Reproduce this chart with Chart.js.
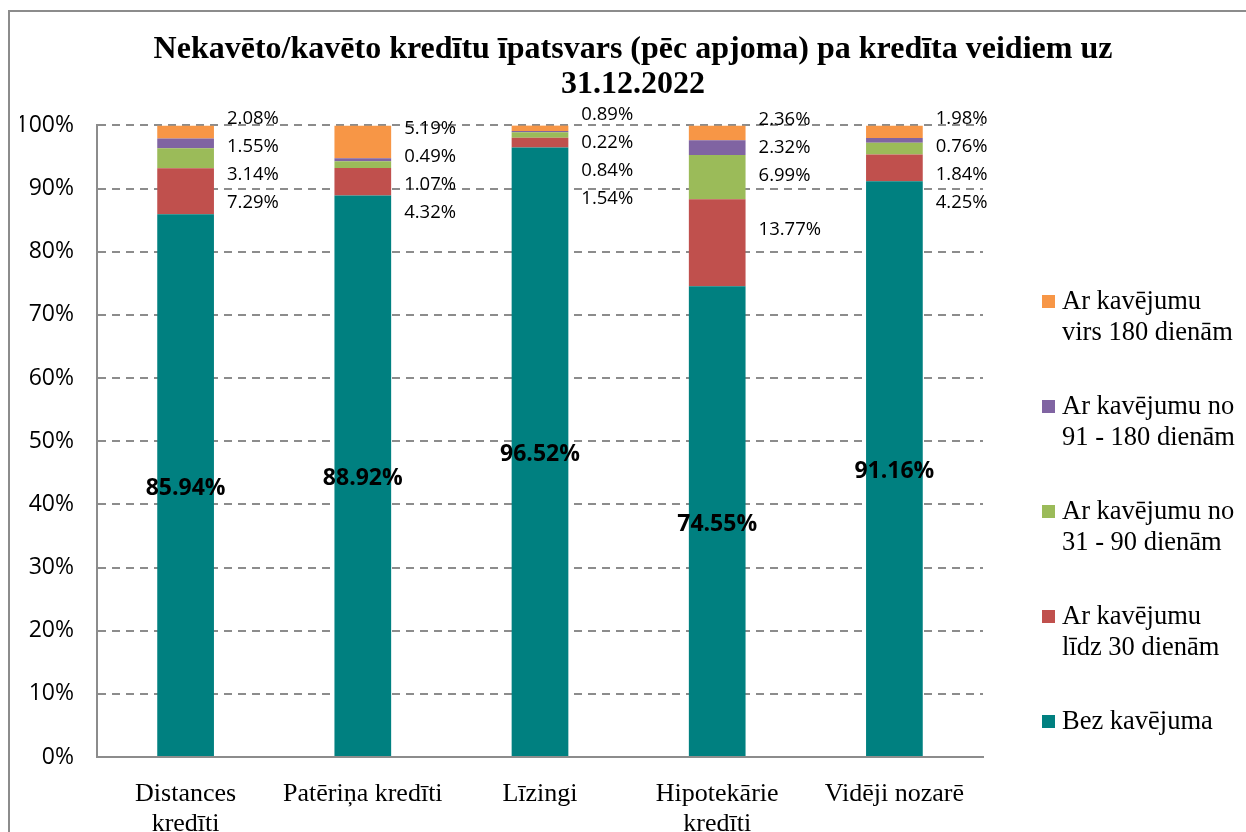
<!DOCTYPE html>
<html>
<head>
<meta charset="utf-8">
<script src="https://cdn.jsdelivr.net/npm/chart.js@4"></script>
<style>
  html, body { margin: 0; padding: 0; background: #fff; }
  body { width: 1246px; height: 832px; overflow: hidden; position: relative; }
  #frame { position: absolute; left: 8px; top: 10px; width: 1250px; height: 840px; border: 2px solid #8c8c8c; box-sizing: border-box; }
  #wrap { position: absolute; left: 0; top: 0; width: 1246px; height: 832px; }
  #legend { position: absolute; left: 1042px; top: 285px; font-family: "Liberation Serif", serif; font-size: 26.5px; color: #000; }
  #legend .item { position: relative; padding-left: 20px; line-height: 31px; height: 105px; white-space: nowrap; }
  #legend .box { position: absolute; left: 0; top: 10px; width: 13px; height: 13px; }
</style>
</head>
<body>
<div id="frame"></div>
<div id="wrap"><canvas id="myChart" width="1246" height="832"></canvas></div>
<div id="legend"></div>
<script>
// categories and series (percent of volume)
var categories = [['Distances', 'kredīti'], 'Patēriņa kredīti', 'Līzingi', ['Hipotekārie', 'kredīti'], 'Vidēji nozarē'];
var bezKavejuma = [85.94, 88.92, 96.52, 74.55, 91.16];
var lidz30 = [7.29, 4.32, 1.54, 13.77, 4.25];
var no31lidz90 = [3.14, 1.07, 0.84, 6.99, 1.84];
var no91lidz180 = [1.55, 0.49, 0.22, 2.32, 0.76];
var virs180 = [2.08, 5.19, 0.89, 2.36, 1.98];
var seriesNames = ['Bez kavējuma', 'Ar kavējumu\nlīdz 30 dienām', 'Ar kavējumu no\n31 - 90 dienām', 'Ar kavējumu no\n91 - 180 dienām', 'Ar kavējumu\nvirs 180 dienām'];
var seriesColors = ['#008080', '#C0504D', '#9BBB59', '#8064A2', '#F79646'];
var seriesData = [bezKavejuma, lidz30, no31lidz90, no91lidz180, virs180];

var datasets = seriesData.map(function (d, i) {
  return {
    label: seriesNames[i],
    data: d,
    backgroundColor: seriesColors[i],
    borderWidth: 0,
    barPercentage: 0.32,
    categoryPercentage: 1
  };
});

function fmt(v) { return v.toFixed(2) + '%'; }

// value labels: bold inside the base segment, the rest stacked to the right of the bar
var labelPlugin = {
  id: 'valueLabels',
  afterDatasetsDraw: function (chart) {
    var ctx = chart.ctx;
    ctx.save();
    ctx.fillStyle = '#000';
    var base = chart.getDatasetMeta(0);
    ctx.font = 'bold 23px "Open Sans"';
    ctx.textAlign = 'center';
    ctx.textBaseline = 'middle';
    base.data.forEach(function (bar, i) {
      ctx.fillText(fmt(bezKavejuma[i]), bar.x, (bar.y + bar.base) / 2 + 3);
    });
    ctx.font = '18.5px "Open Sans"';
    ctx.textAlign = 'left';
    for (var i = 0; i < categories.length; i++) {
      var bar = base.data[i];
      var right = bar.x + bar.width / 2 + 13;
      var prev = null;
      for (var s = seriesData.length - 1; s >= 1; s--) {
        var el = chart.getDatasetMeta(s).data[i];
        var cy = (el.y + el.base) / 2 - 13;
        var ly = prev === null ? cy : Math.max(prev + 28, cy);
        ctx.fillText(fmt(seriesData[s][i]), right, ly);
        prev = ly;
      }
    }
    ctx.restore();
  }
};

var ctx = document.getElementById('myChart').getContext('2d');
var myChart = new Chart(ctx, {
  type: 'bar',
  data: { labels: categories, datasets: datasets },
  plugins: [labelPlugin],
  options: {
    responsive: false,
    animation: false,
    layout: { padding: { left: 20, right: 0, top: 0, bottom: 0 } },
    plugins: {
      legend: { display: false },
      tooltip: { enabled: false },
      title: {
        display: true,
        text: ['Nekavēto/kavēto kredītu īpatsvars (pēc apjoma) pa kredīta veidiem uz', '31.12.2022'],
        color: '#000',
        font: { family: '"Liberation Serif"', size: 32, weight: 'bold', lineHeight: 1.1 },
        padding: { top: 32, bottom: 23 }
      }
    },
    scales: {
      x: {
        stacked: true,
        grid: { display: false },
        border: { display: true, color: '#8c8c8c', width: 2 },
        ticks: { color: '#000', padding: 14, maxRotation: 0, autoSkip: false,
          font: { family: '"Liberation Serif"', size: 26, lineHeight: 1.15 } },
        afterFit: function (s) { s.height = 75; }
      },
      y: {
        stacked: true,
        min: 0, max: 100,
        ticks: { stepSize: 10, color: '#000', padding: 23,
          font: { family: '"Open Sans"', size: 23 },
          callback: function (v) { return v + '%'; } },
        grid: { color: '#8c8c8c', lineWidth: 2, drawTicks: false },
        border: { display: true, color: '#8c8c8c', width: 2, dash: [8, 6] },
        afterFit: function (s) { s.width = 77; }
      },
      yRight: {
        position: 'right',
        display: true,
        grid: { display: false },
        border: { display: false },
        ticks: { display: false },
        afterFit: function (s) { s.width = 263; }
      }
    }
  }
});

// html legend, top to bottom in reverse stacking order
var legend = document.getElementById('legend');
for (var k = seriesNames.length - 1; k >= 0; k--) {
  var item = document.createElement('div');
  item.className = 'item';
  item.innerHTML = '<span class="box" style="background:' + seriesColors[k] + '"></span>' +
    seriesNames[k].replace('\n', '<br>');
  legend.appendChild(item);
}
</script>
</body>
</html>
